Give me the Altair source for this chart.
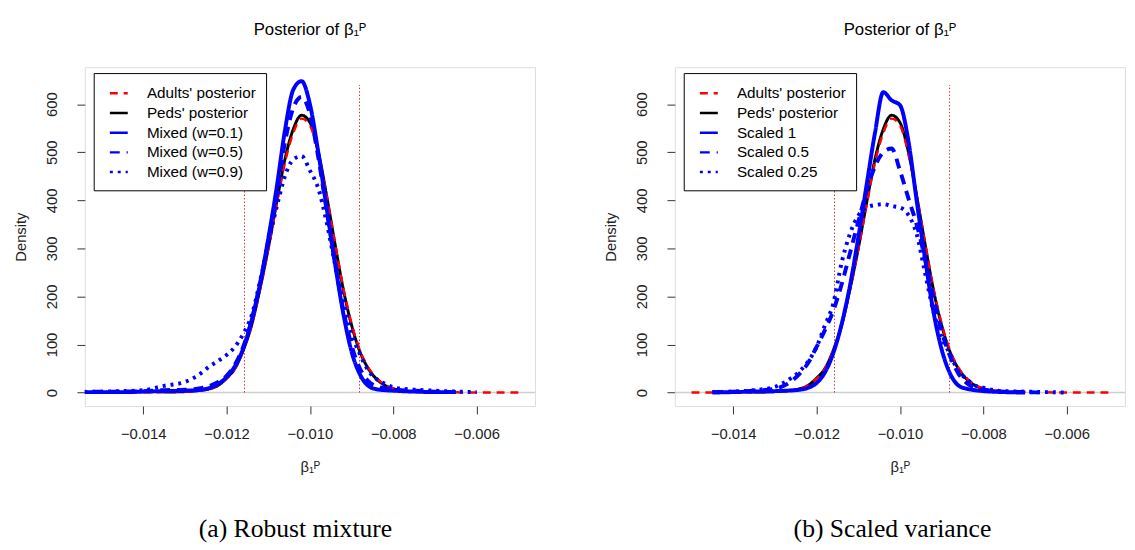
import altair as alt
import pandas as pd

# ---------------- data ----------------
X_GRID = [-0.0156, -0.0150, -0.0145, -0.0140, -0.0135, -0.0130, -0.0127, -0.0124,
          -0.0122, -0.0120, -0.0118, -0.0116, -0.0114, -0.0112, -0.0110, -0.0108,
          -0.0106, -0.0104, -0.0102, -0.0100, -0.0098, -0.0096, -0.0094, -0.0092,
          -0.0090, -0.0088, -0.0086, -0.0084, -0.0082, -0.0080, -0.0078, -0.0075,
          -0.0070, -0.0065, -0.0060, -0.0055, -0.0050]

ADULTS = [None, 0, 0, 0.5, 1, 2, 4, 8, 15, 29, 50, 88, 140, 213, 298, 390,
          478, 540, 570, 556, 498, 410, 312, 218, 143, 88, 52, 30, 16, 9, 5, 2,
          1, 0.5, 0, 0, 0]
PEDS = [None, None, None, None, 1, 2, 4, 8, 15, 30, 50, 88, 140, 215, 300, 395,
        485, 548, 577, 562, 502, 410, 310, 215, 140, 85, 50, 28, 15, 8, 4, 2,
        None, None, None, None, None]

MIX_W01 = [1, 1, 1, 2, 3, 4, 5, 10, 18, 32, 55, 92, 150, 225, 320, 425, 545,
           630, 648, 600, 500, 385, 270, 165, 85, 38, 14, 7, 5, 4, 3, 2, 1, 1,
           None, None, None]
MIX_W05 = [1, 2, 2, 3, 5, 6, 8, 14, 22, 35, 58, 95, 150, 225, 315, 410, 520,
           592, 615, 580, 490, 380, 272, 172, 98, 50, 24, 13, 9, 6, 5, 4, 2, 1,
           None, None, None]
MIX_W09 = [1, 2, 3, 5, 14, 22, 35, 55, 66, 78, 95, 122, 160, 230, 310, 385,
           450, 485, 492, 462, 425, 355, 268, 190, 122, 80, 46, 28, 18, 11, 8,
           6, 4, 2, 1, None, None]

SCALED_1 = [None, None, 0, 1, 2, 3, 4, 6, 10, 20, 42, 82, 142, 222, 322, 432,
            540, 625, 608, 598, 525, 400, 280, 170, 90, 40, 15, 8, 5, 3, 2, 1,
            0, None, None, None, None]
SCALED_05 = [None, None, 1, 2, 4, 8, 18, 40, 62, 95, 130, 170, 225, 290, 355,
             420, 470, 500, 508, 462, 405, 350, 280, 200, 128, 76, 40, 20, 10,
             6, 4, 2, 1, 0, None, None, None]
SCALED_025 = [None, None, 1, 2, 5, 12, 25, 45, 65, 95, 140, 185, 270, 330, 368,
              385, 390, 392, 388, 385, 370, 330, 250, 170, 115, 80, 45, 28, 15,
              10, 6, 3, 2, 1, 0, None, None]

CRED_BOUNDS = [-0.01157, -0.00881]
CRED_TOP = [640, 640]

X_TICKS = [-0.014, -0.012, -0.010, -0.008, -0.006]
Y_TICKS = [0, 100, 200, 300, 400, 500, 600]
X_DOMAIN = [-0.0154, -0.0046]
Y_DOMAIN = [-28, 677]

LEFT_NAMES = ["Adults' posterior", "Peds' posterior", "Mixed (w=0.1)",
              "Mixed (w=0.5)", "Mixed (w=0.9)"]
RIGHT_NAMES = ["Adults' posterior", "Peds' posterior", "Scaled 1",
               "Scaled 0.5", "Scaled 0.25"]
LEFT_VALUES = [ADULTS, PEDS, MIX_W01, MIX_W05, MIX_W09]
RIGHT_VALUES = [ADULTS, PEDS, SCALED_1, SCALED_05, SCALED_025]

# ---------------- styles ----------------
COLORS = ["#ff0000", "#000000", "#0000ff", "#0000ff", "#0000ff"]
DASHES = [[8, 6], [1, 0], [1, 0], [10, 7], [3, 5]]
WIDTHS = [2.5, 3, 4, 4, 4]
DRAW_ORDER = [1, 0, 4, 3, 2]

FONT = "Liberation Sans"


def make_df(names, values):
    rows = []
    for name, vals in zip(names, values):
        for x, y in zip(X_GRID, vals):
            if y is not None:
                rows.append({"series": name, "x": x, "y": y})
    return pd.DataFrame(rows)


def panel(names, values, caption, cap_dx):
    df = make_df(names, values)
    xs = alt.X("x:Q", scale=alt.Scale(domain=X_DOMAIN, nice=False, zero=False),
               axis=alt.Axis(values=X_TICKS, format=".3f", tickSize=8,
                             labelPadding=13, domain=False, grid=False,
                             title="β₁ᴾ", titlePadding=18, labelFontSize=15,
                             titleFontSize=15, labelFont=FONT, titleFont=FONT,
                             labelColor="#222", titleColor="#222",
                             tickColor="#333", titleFontWeight="normal",
                             labelFlush=False))
    ys = alt.Y("y:Q", scale=alt.Scale(domain=Y_DOMAIN, nice=False, zero=False),
               axis=alt.Axis(values=Y_TICKS, tickSize=8, labelAngle=270,
                             labelAlign="center", labelBaseline="bottom",
                             labelPadding=18, domain=False, grid=False,
                             title="Density", titlePadding=16, labelFontSize=15,
                             titleFontSize=15, labelFont=FONT, titleFont=FONT,
                             labelColor="#222", titleColor="#222",
                             tickColor="#333", titleFontWeight="normal"))
    leg = alt.Legend(title=None, orient="none", legendX=9, legendY=6,
                     fillColor="white", strokeColor="black", padding=10,
                     symbolType="stroke", symbolSize=330,
                     symbolStrokeWidth=2.5, labelFontSize=15.5, labelFont=FONT,
                     labelColor="black", labelOffset=18, rowPadding=1,
                     symbolOffset=5, cornerRadius=0, labelLimit=300)
    color = alt.Color("series:N", scale=alt.Scale(domain=names, range=COLORS),
                      legend=leg, sort=names)
    dash = alt.StrokeDash("series:N", scale=alt.Scale(domain=names, range=DASHES),
                          legend=leg, sort=names)

    zero = alt.Chart(pd.DataFrame({"y": [0]})).mark_rule(
        color="#cfcfcf", strokeWidth=1.5).encode(y=alt.Y("y:Q"))
    cred = alt.Chart(pd.DataFrame({"x": CRED_BOUNDS, "y0": [0, 0], "y1": CRED_TOP})).mark_rule(
        color="#c83232", strokeWidth=1, strokeDash=[1.5, 2]).encode(
        x=alt.X("x:Q"), y=alt.Y("y0:Q"), y2="y1:Q")

    layers = [zero, cred]
    for i in DRAW_ORDER:
        layers.append(
            alt.Chart(df).transform_filter(alt.datum.series == names[i])
            .mark_line(strokeWidth=WIDTHS[i], clip=True, strokeJoin="round",
                       interpolate="monotone")
            .encode(x=xs, y=ys, color=color, strokeDash=dash)
        )
    lay = alt.layer(*layers).properties(
        width=457, height=344,
        title=alt.TitleParams("Posterior of β₁ᴾ", fontSize=17, font=FONT,
                              fontWeight="normal", offset=29, anchor="middle",
                              frame="group", color="black"))
    return alt.vconcat(lay, title=alt.TitleParams(
        caption, orient="bottom", anchor="middle", dx=cap_dx, offset=42,
        font="Liberation Serif", fontSize=26, fontWeight="normal",
        color="black"))


left = panel(LEFT_NAMES, LEFT_VALUES, "(a) Robust mixture", 21)
right = panel(RIGHT_NAMES, RIGHT_VALUES, "(b) Scaled variance", 28)

chart = alt.hconcat(left, right, spacing=67).resolve_scale(
    color="independent", strokeDash="independent", x="independent",
    y="independent").resolve_legend(color="independent",
                                    strokeDash="independent").properties(
    padding={"left": 5, "top": 8, "right": 0, "bottom": 0}
).configure_view(stroke="#222", strokeWidth=1.2).configure(background="white")

chart.save("out.html", embed_options={"renderer": "svg", "actions": False})
